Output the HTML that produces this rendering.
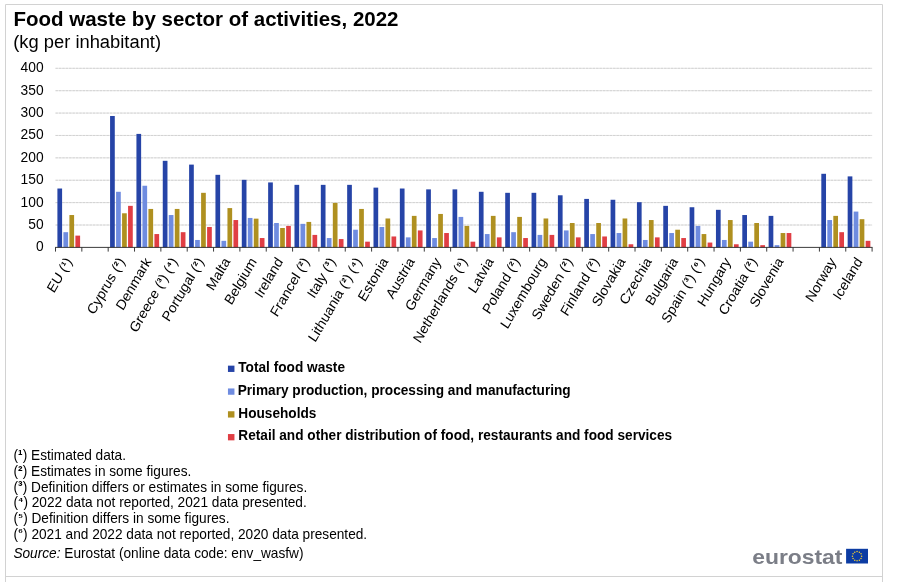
<!DOCTYPE html>
<html lang="en"><head><meta charset="utf-8"><title>Food waste by sector of activities, 2022</title>
<style>html,body{margin:0;padding:0;background:#fff}svg{display:block}</style></head>
<body>
<svg width="905" height="582" viewBox="0 0 905 582" font-family="'Liberation Sans', Arial, sans-serif">
<rect width="905" height="582" fill="#fff"/>
<path d="M5.5 582V4.5H882.5V582M5.5 576.5H882.5" fill="none" stroke="#d2d2d2" stroke-width="1"/>
<text transform="translate(13.4 26) scale(1 1)" font-size="20.5" font-weight="bold" fill="#000">Food waste by sector of activities, 2022</text>
<text transform="translate(13.2 47.5) scale(1 1)" font-size="18.35" fill="#000">(kg per inhabitant)</text>
<text transform="translate(43.6 251.40) scale(1 1.1)" font-size="13.8" text-anchor="end" fill="#000">0</text>
<line x1="55.5" x2="872.1" y1="225.01" y2="225.01" stroke="#e0e0e0" stroke-width="0.75"/>
<line x1="55.5" x2="872.1" y1="225.01" y2="225.01" stroke="#c9c9c9" stroke-width="0.75" stroke-dasharray="2.4 1"/>
<text transform="translate(43.6 229.01) scale(1 1.1)" font-size="13.8" text-anchor="end" fill="#000">50</text>
<line x1="55.5" x2="872.1" y1="202.62" y2="202.62" stroke="#e0e0e0" stroke-width="0.75"/>
<line x1="55.5" x2="872.1" y1="202.62" y2="202.62" stroke="#c9c9c9" stroke-width="0.75" stroke-dasharray="2.4 1"/>
<text transform="translate(43.6 206.62) scale(1 1.1)" font-size="13.8" text-anchor="end" fill="#000">100</text>
<line x1="55.5" x2="872.1" y1="180.24" y2="180.24" stroke="#e0e0e0" stroke-width="0.75"/>
<line x1="55.5" x2="872.1" y1="180.24" y2="180.24" stroke="#c9c9c9" stroke-width="0.75" stroke-dasharray="2.4 1"/>
<text transform="translate(43.6 184.24) scale(1 1.1)" font-size="13.8" text-anchor="end" fill="#000">150</text>
<line x1="55.5" x2="872.1" y1="157.85" y2="157.85" stroke="#e0e0e0" stroke-width="0.75"/>
<line x1="55.5" x2="872.1" y1="157.85" y2="157.85" stroke="#c9c9c9" stroke-width="0.75" stroke-dasharray="2.4 1"/>
<text transform="translate(43.6 161.85) scale(1 1.1)" font-size="13.8" text-anchor="end" fill="#000">200</text>
<line x1="55.5" x2="872.1" y1="135.46" y2="135.46" stroke="#e0e0e0" stroke-width="0.75"/>
<line x1="55.5" x2="872.1" y1="135.46" y2="135.46" stroke="#c9c9c9" stroke-width="0.75" stroke-dasharray="2.4 1"/>
<text transform="translate(43.6 139.46) scale(1 1.1)" font-size="13.8" text-anchor="end" fill="#000">250</text>
<line x1="55.5" x2="872.1" y1="113.07" y2="113.07" stroke="#e0e0e0" stroke-width="0.75"/>
<line x1="55.5" x2="872.1" y1="113.07" y2="113.07" stroke="#c9c9c9" stroke-width="0.75" stroke-dasharray="2.4 1"/>
<text transform="translate(43.6 117.07) scale(1 1.1)" font-size="13.8" text-anchor="end" fill="#000">300</text>
<line x1="55.5" x2="872.1" y1="90.69" y2="90.69" stroke="#e0e0e0" stroke-width="0.75"/>
<line x1="55.5" x2="872.1" y1="90.69" y2="90.69" stroke="#c9c9c9" stroke-width="0.75" stroke-dasharray="2.4 1"/>
<text transform="translate(43.6 94.69) scale(1 1.1)" font-size="13.8" text-anchor="end" fill="#000">350</text>
<line x1="55.5" x2="872.1" y1="68.30" y2="68.30" stroke="#e0e0e0" stroke-width="0.75"/>
<line x1="55.5" x2="872.1" y1="68.30" y2="68.30" stroke="#c9c9c9" stroke-width="0.75" stroke-dasharray="2.4 1"/>
<text transform="translate(43.6 72.30) scale(1 1.1)" font-size="13.8" text-anchor="end" fill="#000">400</text>
<rect x="57.40" y="188.52" width="4.7" height="58.88" fill="#2644A7"/>
<rect x="63.40" y="232.18" width="4.7" height="15.22" fill="#6F8CE0"/>
<rect x="69.40" y="215.03" width="4.7" height="32.37" fill="#AF9020"/>
<rect x="75.40" y="235.62" width="4.7" height="11.78" fill="#E03E44"/>
<rect x="110.08" y="115.99" width="4.7" height="131.41" fill="#2644A7"/>
<rect x="116.08" y="191.79" width="4.7" height="55.61" fill="#6F8CE0"/>
<rect x="122.08" y="213.28" width="4.7" height="34.12" fill="#AF9020"/>
<rect x="128.08" y="205.85" width="4.7" height="41.55" fill="#E03E44"/>
<rect x="136.43" y="133.90" width="4.7" height="113.50" fill="#2644A7"/>
<rect x="142.43" y="185.74" width="4.7" height="61.66" fill="#6F8CE0"/>
<rect x="148.43" y="208.94" width="4.7" height="38.46" fill="#AF9020"/>
<rect x="154.43" y="234.06" width="4.7" height="13.34" fill="#E03E44"/>
<rect x="162.77" y="160.81" width="4.7" height="86.59" fill="#2644A7"/>
<rect x="168.77" y="215.03" width="4.7" height="32.37" fill="#6F8CE0"/>
<rect x="174.77" y="208.94" width="4.7" height="38.46" fill="#AF9020"/>
<rect x="180.77" y="232.18" width="4.7" height="15.22" fill="#E03E44"/>
<rect x="189.11" y="164.61" width="4.7" height="82.79" fill="#2644A7"/>
<rect x="195.11" y="239.97" width="4.7" height="7.43" fill="#6F8CE0"/>
<rect x="201.11" y="192.82" width="4.7" height="54.58" fill="#AF9020"/>
<rect x="207.11" y="226.98" width="4.7" height="20.42" fill="#E03E44"/>
<rect x="215.45" y="174.82" width="4.7" height="72.58" fill="#2644A7"/>
<rect x="221.45" y="240.82" width="4.7" height="6.58" fill="#6F8CE0"/>
<rect x="227.45" y="208.09" width="4.7" height="39.31" fill="#AF9020"/>
<rect x="233.45" y="220.04" width="4.7" height="27.36" fill="#E03E44"/>
<rect x="241.79" y="179.83" width="4.7" height="67.57" fill="#2644A7"/>
<rect x="247.79" y="217.94" width="4.7" height="29.46" fill="#6F8CE0"/>
<rect x="253.79" y="218.65" width="4.7" height="28.75" fill="#AF9020"/>
<rect x="259.79" y="238.04" width="4.7" height="9.36" fill="#E03E44"/>
<rect x="268.14" y="182.43" width="4.7" height="64.97" fill="#2644A7"/>
<rect x="274.14" y="223.00" width="4.7" height="24.40" fill="#6F8CE0"/>
<rect x="280.14" y="228.01" width="4.7" height="19.39" fill="#AF9020"/>
<rect x="286.14" y="225.91" width="4.7" height="21.49" fill="#E03E44"/>
<rect x="294.48" y="184.85" width="4.7" height="62.55" fill="#2644A7"/>
<rect x="300.48" y="223.85" width="4.7" height="23.55" fill="#6F8CE0"/>
<rect x="306.48" y="221.92" width="4.7" height="25.48" fill="#AF9020"/>
<rect x="312.48" y="234.91" width="4.7" height="12.49" fill="#E03E44"/>
<rect x="320.82" y="184.85" width="4.7" height="62.55" fill="#2644A7"/>
<rect x="326.82" y="238.04" width="4.7" height="9.36" fill="#6F8CE0"/>
<rect x="332.82" y="202.89" width="4.7" height="44.51" fill="#AF9020"/>
<rect x="338.82" y="239.07" width="4.7" height="8.33" fill="#E03E44"/>
<rect x="347.16" y="184.85" width="4.7" height="62.55" fill="#2644A7"/>
<rect x="353.16" y="229.71" width="4.7" height="17.69" fill="#6F8CE0"/>
<rect x="359.16" y="208.94" width="4.7" height="38.46" fill="#AF9020"/>
<rect x="365.16" y="241.67" width="4.7" height="5.73" fill="#E03E44"/>
<rect x="373.50" y="187.63" width="4.7" height="59.77" fill="#2644A7"/>
<rect x="379.50" y="226.98" width="4.7" height="20.42" fill="#6F8CE0"/>
<rect x="385.50" y="218.48" width="4.7" height="28.92" fill="#AF9020"/>
<rect x="391.50" y="236.47" width="4.7" height="10.93" fill="#E03E44"/>
<rect x="399.85" y="188.52" width="4.7" height="58.88" fill="#2644A7"/>
<rect x="405.85" y="237.37" width="4.7" height="10.03" fill="#6F8CE0"/>
<rect x="411.85" y="215.88" width="4.7" height="31.52" fill="#AF9020"/>
<rect x="417.85" y="230.43" width="4.7" height="16.97" fill="#E03E44"/>
<rect x="426.19" y="189.37" width="4.7" height="58.03" fill="#2644A7"/>
<rect x="432.19" y="238.04" width="4.7" height="9.36" fill="#6F8CE0"/>
<rect x="438.19" y="213.95" width="4.7" height="33.45" fill="#AF9020"/>
<rect x="444.19" y="233.03" width="4.7" height="14.37" fill="#E03E44"/>
<rect x="452.53" y="189.37" width="4.7" height="58.03" fill="#2644A7"/>
<rect x="458.53" y="216.91" width="4.7" height="30.49" fill="#6F8CE0"/>
<rect x="464.53" y="225.91" width="4.7" height="21.49" fill="#AF9020"/>
<rect x="470.53" y="241.67" width="4.7" height="5.73" fill="#E03E44"/>
<rect x="478.87" y="191.79" width="4.7" height="55.61" fill="#2644A7"/>
<rect x="484.87" y="234.06" width="4.7" height="13.34" fill="#6F8CE0"/>
<rect x="490.87" y="215.88" width="4.7" height="31.52" fill="#AF9020"/>
<rect x="496.87" y="237.37" width="4.7" height="10.03" fill="#E03E44"/>
<rect x="505.21" y="192.82" width="4.7" height="54.58" fill="#2644A7"/>
<rect x="511.21" y="232.18" width="4.7" height="15.22" fill="#6F8CE0"/>
<rect x="517.21" y="216.91" width="4.7" height="30.49" fill="#AF9020"/>
<rect x="523.21" y="238.04" width="4.7" height="9.36" fill="#E03E44"/>
<rect x="531.55" y="192.82" width="4.7" height="54.58" fill="#2644A7"/>
<rect x="537.55" y="234.91" width="4.7" height="12.49" fill="#6F8CE0"/>
<rect x="543.55" y="218.48" width="4.7" height="28.92" fill="#AF9020"/>
<rect x="549.55" y="234.91" width="4.7" height="12.49" fill="#E03E44"/>
<rect x="557.90" y="195.28" width="4.7" height="52.12" fill="#2644A7"/>
<rect x="563.90" y="230.43" width="4.7" height="16.97" fill="#6F8CE0"/>
<rect x="569.90" y="223.00" width="4.7" height="24.40" fill="#AF9020"/>
<rect x="575.90" y="237.37" width="4.7" height="10.03" fill="#E03E44"/>
<rect x="584.24" y="198.91" width="4.7" height="48.49" fill="#2644A7"/>
<rect x="590.24" y="234.06" width="4.7" height="13.34" fill="#6F8CE0"/>
<rect x="596.24" y="223.00" width="4.7" height="24.40" fill="#AF9020"/>
<rect x="602.24" y="236.47" width="4.7" height="10.93" fill="#E03E44"/>
<rect x="610.58" y="199.76" width="4.7" height="47.64" fill="#2644A7"/>
<rect x="616.58" y="233.03" width="4.7" height="14.37" fill="#6F8CE0"/>
<rect x="622.58" y="218.48" width="4.7" height="28.92" fill="#AF9020"/>
<rect x="628.58" y="244.27" width="4.7" height="3.13" fill="#E03E44"/>
<rect x="636.92" y="202.18" width="4.7" height="45.22" fill="#2644A7"/>
<rect x="642.92" y="239.97" width="4.7" height="7.43" fill="#6F8CE0"/>
<rect x="648.92" y="220.04" width="4.7" height="27.36" fill="#AF9020"/>
<rect x="654.92" y="237.37" width="4.7" height="10.03" fill="#E03E44"/>
<rect x="663.26" y="205.85" width="4.7" height="41.55" fill="#2644A7"/>
<rect x="669.26" y="233.03" width="4.7" height="14.37" fill="#6F8CE0"/>
<rect x="675.26" y="229.71" width="4.7" height="17.69" fill="#AF9020"/>
<rect x="681.26" y="238.04" width="4.7" height="9.36" fill="#E03E44"/>
<rect x="689.61" y="207.24" width="4.7" height="40.16" fill="#2644A7"/>
<rect x="695.61" y="225.91" width="4.7" height="21.49" fill="#6F8CE0"/>
<rect x="701.61" y="234.06" width="4.7" height="13.34" fill="#AF9020"/>
<rect x="707.61" y="242.56" width="4.7" height="4.84" fill="#E03E44"/>
<rect x="715.95" y="209.83" width="4.7" height="37.57" fill="#2644A7"/>
<rect x="721.95" y="239.97" width="4.7" height="7.43" fill="#6F8CE0"/>
<rect x="727.95" y="220.04" width="4.7" height="27.36" fill="#AF9020"/>
<rect x="733.95" y="244.27" width="4.7" height="3.13" fill="#E03E44"/>
<rect x="742.29" y="215.03" width="4.7" height="32.37" fill="#2644A7"/>
<rect x="748.29" y="241.67" width="4.7" height="5.73" fill="#6F8CE0"/>
<rect x="754.29" y="223.00" width="4.7" height="24.40" fill="#AF9020"/>
<rect x="760.29" y="245.16" width="4.7" height="2.24" fill="#E03E44"/>
<rect x="768.63" y="215.88" width="4.7" height="31.52" fill="#2644A7"/>
<rect x="774.63" y="245.16" width="4.7" height="2.24" fill="#6F8CE0"/>
<rect x="780.63" y="233.03" width="4.7" height="14.37" fill="#AF9020"/>
<rect x="786.63" y="233.03" width="4.7" height="14.37" fill="#E03E44"/>
<rect x="821.32" y="173.79" width="4.7" height="73.61" fill="#2644A7"/>
<rect x="827.32" y="220.04" width="4.7" height="27.36" fill="#6F8CE0"/>
<rect x="833.32" y="215.88" width="4.7" height="31.52" fill="#AF9020"/>
<rect x="839.32" y="232.18" width="4.7" height="15.22" fill="#E03E44"/>
<rect x="847.66" y="176.39" width="4.7" height="71.01" fill="#2644A7"/>
<rect x="853.66" y="211.58" width="4.7" height="35.82" fill="#6F8CE0"/>
<rect x="859.66" y="219.19" width="4.7" height="28.21" fill="#AF9020"/>
<rect x="865.66" y="240.82" width="4.7" height="6.58" fill="#E03E44"/>
<line x1="55.1" x2="872.5" y1="247.4" y2="247.4" stroke="#262626" stroke-width="0.9"/>
<line x1="55.50" x2="55.50" y1="247.4" y2="251.6" stroke="#262626" stroke-width="0.9"/>
<line x1="81.84" x2="81.84" y1="247.4" y2="251.6" stroke="#262626" stroke-width="0.9"/>
<line x1="108.18" x2="108.18" y1="247.4" y2="251.6" stroke="#262626" stroke-width="0.9"/>
<line x1="134.53" x2="134.53" y1="247.4" y2="251.6" stroke="#262626" stroke-width="0.9"/>
<line x1="160.87" x2="160.87" y1="247.4" y2="251.6" stroke="#262626" stroke-width="0.9"/>
<line x1="187.21" x2="187.21" y1="247.4" y2="251.6" stroke="#262626" stroke-width="0.9"/>
<line x1="213.55" x2="213.55" y1="247.4" y2="251.6" stroke="#262626" stroke-width="0.9"/>
<line x1="239.89" x2="239.89" y1="247.4" y2="251.6" stroke="#262626" stroke-width="0.9"/>
<line x1="266.24" x2="266.24" y1="247.4" y2="251.6" stroke="#262626" stroke-width="0.9"/>
<line x1="292.58" x2="292.58" y1="247.4" y2="251.6" stroke="#262626" stroke-width="0.9"/>
<line x1="318.92" x2="318.92" y1="247.4" y2="251.6" stroke="#262626" stroke-width="0.9"/>
<line x1="345.26" x2="345.26" y1="247.4" y2="251.6" stroke="#262626" stroke-width="0.9"/>
<line x1="371.60" x2="371.60" y1="247.4" y2="251.6" stroke="#262626" stroke-width="0.9"/>
<line x1="397.95" x2="397.95" y1="247.4" y2="251.6" stroke="#262626" stroke-width="0.9"/>
<line x1="424.29" x2="424.29" y1="247.4" y2="251.6" stroke="#262626" stroke-width="0.9"/>
<line x1="450.63" x2="450.63" y1="247.4" y2="251.6" stroke="#262626" stroke-width="0.9"/>
<line x1="476.97" x2="476.97" y1="247.4" y2="251.6" stroke="#262626" stroke-width="0.9"/>
<line x1="503.31" x2="503.31" y1="247.4" y2="251.6" stroke="#262626" stroke-width="0.9"/>
<line x1="529.65" x2="529.65" y1="247.4" y2="251.6" stroke="#262626" stroke-width="0.9"/>
<line x1="556.00" x2="556.00" y1="247.4" y2="251.6" stroke="#262626" stroke-width="0.9"/>
<line x1="582.34" x2="582.34" y1="247.4" y2="251.6" stroke="#262626" stroke-width="0.9"/>
<line x1="608.68" x2="608.68" y1="247.4" y2="251.6" stroke="#262626" stroke-width="0.9"/>
<line x1="635.02" x2="635.02" y1="247.4" y2="251.6" stroke="#262626" stroke-width="0.9"/>
<line x1="661.36" x2="661.36" y1="247.4" y2="251.6" stroke="#262626" stroke-width="0.9"/>
<line x1="687.71" x2="687.71" y1="247.4" y2="251.6" stroke="#262626" stroke-width="0.9"/>
<line x1="714.05" x2="714.05" y1="247.4" y2="251.6" stroke="#262626" stroke-width="0.9"/>
<line x1="740.39" x2="740.39" y1="247.4" y2="251.6" stroke="#262626" stroke-width="0.9"/>
<line x1="766.73" x2="766.73" y1="247.4" y2="251.6" stroke="#262626" stroke-width="0.9"/>
<line x1="793.07" x2="793.07" y1="247.4" y2="251.6" stroke="#262626" stroke-width="0.9"/>
<line x1="819.42" x2="819.42" y1="247.4" y2="251.6" stroke="#262626" stroke-width="0.9"/>
<line x1="845.76" x2="845.76" y1="247.4" y2="251.6" stroke="#262626" stroke-width="0.9"/>
<line x1="872.10" x2="872.10" y1="247.4" y2="251.6" stroke="#262626" stroke-width="0.9"/>
<text transform="translate(72.67 261.5) scale(1 1.08) rotate(-58)" font-size="13.4" text-anchor="end" fill="#000">EU (<tspan font-size="12" font-weight="bold" dy="-0.6">¹</tspan><tspan dy="0.6">)</tspan></text>
<text transform="translate(125.35 261.5) scale(1 1.08) rotate(-58)" font-size="13.4" text-anchor="end" fill="#000">Cyprus (<tspan font-size="12" font-weight="bold" dy="-0.6">²</tspan><tspan dy="0.6">)</tspan></text>
<text transform="translate(151.70 261.5) scale(1 1.08) rotate(-58)" font-size="13.4" text-anchor="end" fill="#000">Denmark</text>
<text transform="translate(178.04 261.5) scale(1 1.08) rotate(-58)" font-size="13.4" text-anchor="end" fill="#000">Greece (<tspan font-size="12" font-weight="bold" dy="-0.6">³</tspan><tspan dy="0.6">)</tspan> (<tspan font-size="10.8" font-weight="bold" dy="-1.6">⁴</tspan><tspan dy="1.6">)</tspan></text>
<text transform="translate(204.38 261.5) scale(1 1.08) rotate(-58)" font-size="13.4" text-anchor="end" fill="#000">Portugal (<tspan font-size="12" font-weight="bold" dy="-0.6">²</tspan><tspan dy="0.6">)</tspan></text>
<text transform="translate(230.72 261.5) scale(1 1.08) rotate(-58)" font-size="13.4" text-anchor="end" fill="#000">Malta</text>
<text transform="translate(257.06 261.5) scale(1 1.08) rotate(-58)" font-size="13.4" text-anchor="end" fill="#000">Belgium</text>
<text transform="translate(283.41 261.5) scale(1 1.08) rotate(-58)" font-size="13.4" text-anchor="end" fill="#000">Ireland</text>
<text transform="translate(309.75 261.5) scale(1 1.08) rotate(-58)" font-size="13.4" text-anchor="end" fill="#000">Francel (<tspan font-size="12" font-weight="bold" dy="-0.6">²</tspan><tspan dy="0.6">)</tspan></text>
<text transform="translate(336.09 261.5) scale(1 1.08) rotate(-58)" font-size="13.4" text-anchor="end" fill="#000">Italy (<tspan font-size="12" font-weight="bold" dy="-0.6">³</tspan><tspan dy="0.6">)</tspan></text>
<text transform="translate(362.43 261.5) scale(1 1.08) rotate(-58)" font-size="13.4" text-anchor="end" fill="#000">Lithuania (<tspan font-size="12" font-weight="bold" dy="-0.6">²</tspan><tspan dy="0.6">)</tspan> (<tspan font-size="10.8" font-weight="bold" dy="-1.6">⁴</tspan><tspan dy="1.6">)</tspan></text>
<text transform="translate(388.77 261.5) scale(1 1.08) rotate(-58)" font-size="13.4" text-anchor="end" fill="#000">Estonia</text>
<text transform="translate(415.12 261.5) scale(1 1.08) rotate(-58)" font-size="13.4" text-anchor="end" fill="#000">Austria</text>
<text transform="translate(441.46 261.5) scale(1 1.08) rotate(-58)" font-size="13.4" text-anchor="end" fill="#000">Germany</text>
<text transform="translate(467.80 261.5) scale(1 1.08) rotate(-58)" font-size="13.4" text-anchor="end" fill="#000">Netherlands (<tspan font-size="10.8" font-weight="bold" dy="-1.6">⁵</tspan><tspan dy="1.6">)</tspan></text>
<text transform="translate(494.14 261.5) scale(1 1.08) rotate(-58)" font-size="13.4" text-anchor="end" fill="#000">Latvia</text>
<text transform="translate(520.48 261.5) scale(1 1.08) rotate(-58)" font-size="13.4" text-anchor="end" fill="#000">Poland (<tspan font-size="12" font-weight="bold" dy="-0.6">²</tspan><tspan dy="0.6">)</tspan></text>
<text transform="translate(546.83 261.5) scale(1 1.08) rotate(-58)" font-size="13.4" text-anchor="end" fill="#000">Luxembourg</text>
<text transform="translate(573.17 261.5) scale(1 1.08) rotate(-58)" font-size="13.4" text-anchor="end" fill="#000">Sweden (<tspan font-size="12" font-weight="bold" dy="-0.6">²</tspan><tspan dy="0.6">)</tspan></text>
<text transform="translate(599.51 261.5) scale(1 1.08) rotate(-58)" font-size="13.4" text-anchor="end" fill="#000">Finland (<tspan font-size="12" font-weight="bold" dy="-0.6">²</tspan><tspan dy="0.6">)</tspan></text>
<text transform="translate(625.85 261.5) scale(1 1.08) rotate(-58)" font-size="13.4" text-anchor="end" fill="#000">Slovakia</text>
<text transform="translate(652.19 261.5) scale(1 1.08) rotate(-58)" font-size="13.4" text-anchor="end" fill="#000">Czechia</text>
<text transform="translate(678.54 261.5) scale(1 1.08) rotate(-58)" font-size="13.4" text-anchor="end" fill="#000">Bulgaria</text>
<text transform="translate(704.88 261.5) scale(1 1.08) rotate(-58)" font-size="13.4" text-anchor="end" fill="#000">Spain (<tspan font-size="12" font-weight="bold" dy="-0.6">³</tspan><tspan dy="0.6">)</tspan> (<tspan font-size="10.8" font-weight="bold" dy="-1.6">⁶</tspan><tspan dy="1.6">)</tspan></text>
<text transform="translate(731.22 261.5) scale(1 1.08) rotate(-58)" font-size="13.4" text-anchor="end" fill="#000">Hungary</text>
<text transform="translate(757.56 261.5) scale(1 1.08) rotate(-58)" font-size="13.4" text-anchor="end" fill="#000">Croatia (<tspan font-size="12" font-weight="bold" dy="-0.6">²</tspan><tspan dy="0.6">)</tspan></text>
<text transform="translate(783.90 261.5) scale(1 1.08) rotate(-58)" font-size="13.4" text-anchor="end" fill="#000">Slovenia</text>
<text transform="translate(836.59 261.5) scale(1 1.08) rotate(-58)" font-size="13.4" text-anchor="end" fill="#000">Norway</text>
<text transform="translate(862.93 261.5) scale(1 1.08) rotate(-58)" font-size="13.4" text-anchor="end" fill="#000">Iceland</text>
<rect x="227.95" y="365.65" width="6.5" height="6.3" fill="#2644A7"/>
<text transform="translate(238.3 372.00) scale(1 1.01)" font-size="13.66" font-weight="bold" fill="#000">Total food waste</text>
<rect x="227.95" y="388.45" width="6.5" height="6.3" fill="#6F8CE0"/>
<text transform="translate(237.70000000000002 394.80) scale(1 1.01)" font-size="13.66" font-weight="bold" fill="#000">Primary production, processing and manufacturing</text>
<rect x="227.95" y="411.25" width="6.5" height="6.3" fill="#AF9020"/>
<text transform="translate(238.3 417.60) scale(1 1.01)" font-size="13.66" font-weight="bold" fill="#000">Households</text>
<rect x="227.95" y="434.05" width="6.5" height="6.3" fill="#E03E44"/>
<text transform="translate(238.3 440.40) scale(1 1.01)" font-size="13.66" font-weight="bold" fill="#000">Retail and other distribution of food, restaurants and food services</text>
<text transform="translate(13.4 460.20) scale(1 1.08)" font-size="13.68" fill="#000">(<tspan font-size="13.68" font-weight="bold" dx="0.1" dy="-0.3">¹</tspan><tspan dx="0.1" dy="0.3">)</tspan> Estimated data.</text>
<text transform="translate(13.4 475.92) scale(1 1.08)" font-size="13.68" fill="#000">(<tspan font-size="13.68" font-weight="bold" dx="0.1" dy="-0.3">²</tspan><tspan dx="0.1" dy="0.3">)</tspan> Estimates in some figures.</text>
<text transform="translate(13.4 491.64) scale(1 1.08)" font-size="13.68" fill="#000">(<tspan font-size="13.68" font-weight="bold" dx="0.1" dy="-0.3">³</tspan><tspan dx="0.1" dy="0.3">)</tspan> Definition differs or estimates in some figures.</text>
<text transform="translate(13.4 507.36) scale(1 1.08)" font-size="13.68" fill="#000">(<tspan font-size="11" font-weight="bold" dy="-2.2">⁴</tspan><tspan dy="2.2">)</tspan> 2022 data not reported, 2021 data presented.</text>
<text transform="translate(13.4 523.08) scale(1 1.08)" font-size="13.68" fill="#000">(<tspan font-size="11" font-weight="bold" dy="-2.2">⁵</tspan><tspan dy="2.2">)</tspan> Definition differs in some figures.</text>
<text transform="translate(13.4 538.80) scale(1 1.08)" font-size="13.68" fill="#000">(<tspan font-size="11" font-weight="bold" dy="-2.2">⁶</tspan><tspan dy="2.2">)</tspan> 2021 and 2022 data not reported, 2020 data presented.</text>
<text transform="translate(13.4 557.6) scale(1 1.08)" font-size="13.68" fill="#000"><tspan font-style="italic">Source:</tspan> Eurostat (online data code: env_wasfw)</text>
<text x="752.2" y="563.8" font-size="19.7" font-weight="bold" fill="#7b7e87" textLength="90.3" lengthAdjust="spacingAndGlyphs">eurostat</text>
<rect x="846.1" y="548.8" width="21.9" height="14.7" fill="#0c3ca3"/>
<circle cx="857.05" cy="551.55" r="0.75" fill="#f3cf2f"/>
<circle cx="859.35" cy="552.17" r="0.75" fill="#f3cf2f"/>
<circle cx="861.03" cy="553.85" r="0.75" fill="#f3cf2f"/>
<circle cx="861.65" cy="556.15" r="0.75" fill="#f3cf2f"/>
<circle cx="861.03" cy="558.45" r="0.75" fill="#f3cf2f"/>
<circle cx="859.35" cy="560.13" r="0.75" fill="#f3cf2f"/>
<circle cx="857.05" cy="560.75" r="0.75" fill="#f3cf2f"/>
<circle cx="854.75" cy="560.13" r="0.75" fill="#f3cf2f"/>
<circle cx="853.07" cy="558.45" r="0.75" fill="#f3cf2f"/>
<circle cx="852.45" cy="556.15" r="0.75" fill="#f3cf2f"/>
<circle cx="853.07" cy="553.85" r="0.75" fill="#f3cf2f"/>
<circle cx="854.75" cy="552.17" r="0.75" fill="#f3cf2f"/>
</svg>
</body></html>
